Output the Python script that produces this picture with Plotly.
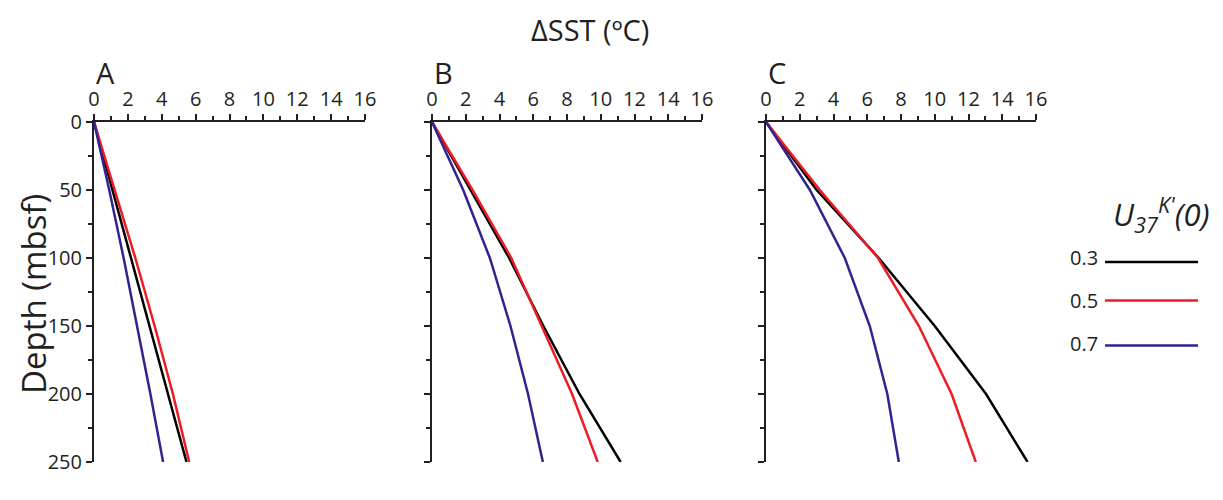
import plotly.graph_objects as go

# ---- data ----
depth = [0, 50, 100, 150, 200, 250]
A_03 = [0, 1.09, 2.18, 3.28, 4.37, 5.46]
A_05 = [0, 1.24, 2.44, 3.58, 4.66, 5.62]
A_07 = [0, 0.9, 1.75, 2.55, 3.33, 4.08]
B_03 = [0, 2.3, 4.57, 6.6, 8.74, 11.18]
B_05 = [0, 2.4, 4.7, 6.5, 8.3, 9.82]
B_07 = [0, 1.85, 3.43, 4.65, 5.69, 6.57]
C_03 = [0, 3.0, 6.68, 10.0, 13.04, 15.5]
C_05 = [0, 3.19, 6.64, 9.06, 11.0, 12.43]
C_07 = [0, 2.6, 4.67, 6.15, 7.19, 7.87]
panels = ["A", "B", "C"]
series_labels = ["0.3", "0.5", "0.7"]
panel_data = {"A": [A_03, A_05, A_07], "B": [B_03, B_05, B_07], "C": [C_03, C_05, C_07]}
colors = ["#000000", "#ed1c24", "#33228f"]

# page body has an 8px margin; figure fills the rest of the 1223x500 window
OFF = 8
W, H = 1223 - 2 * OFF, 500 - 2 * OFF


def fx(px):
    return (px - OFF) / W


def fy(py):
    return 1 - (py - OFF) / H


x_domains = [(94, 365), (432, 702), (766, 1036)]
y_top, y_bot = 122, 462
font_family = "Open Sans, Noto Sans, sans-serif"
txt_color = "#231f20"

fig = go.Figure()
for i, p in enumerate(panels):
    xa = "x" if i == 0 else f"x{i+1}"
    ya = "y" if i == 0 else f"y{i+1}"
    for j in [0, 1, 2]:
        fig.add_trace(go.Scatter(
            x=panel_data[p][j], y=depth, mode="lines",
            line=dict(color=colors[j], width=2.5),
            xaxis=xa, yaxis=ya, showlegend=False, hoverinfo="skip"))

layout = dict(
    width=W, height=H, autosize=False, showlegend=False,
    margin=dict(l=0, r=0, t=0, b=0, pad=0, autoexpand=False),
    paper_bgcolor="white", plot_bgcolor="white",
    font=dict(family=font_family, color=txt_color),
)
for i, p in enumerate(panels):
    x0, x1 = x_domains[i]
    xkey = "xaxis" if i == 0 else f"xaxis{i+1}"
    ykey = "yaxis" if i == 0 else f"yaxis{i+1}"
    yanchor = "y" if i == 0 else f"y{i+1}"
    xanchor = "x" if i == 0 else f"x{i+1}"
    layout[xkey] = dict(
        domain=[fx(x0), fx(x1)], anchor=yanchor, side="top", automargin=False,
        range=[0, 16], dtick=2, tick0=0, showgrid=False, zeroline=False,
        showline=True, linecolor="#231f20", linewidth=2,
        ticks="outside", ticklen=6, tickwidth=2, tickcolor="#231f20",
        tickfont=dict(size=20, color=txt_color),
        minor=dict(dtick=1, ticks="outside", ticklen=4, tickwidth=1.5, tickcolor="#231f20", showgrid=False),
        fixedrange=True,
    )
    layout[ykey] = dict(
        domain=[fy(y_bot), fy(y_top)], anchor=xanchor, automargin=False,
        range=[250, 0], dtick=50, tick0=0, showgrid=False, zeroline=False,
        showline=True, linecolor="#231f20", linewidth=2,
        ticks="outside", ticklen=6, tickwidth=2, tickcolor="#231f20",
        showticklabels=(i == 0),
        tickfont=dict(size=20, color=txt_color),
        minor=dict(dtick=25, ticks="outside", ticklen=4, tickwidth=1.5, tickcolor="#231f20", showgrid=False),
        fixedrange=True,
    )
fig.update_layout(**layout)

ann = []
for i, p in enumerate(panels):
    x0, _ = x_domains[i]
    ann.append(dict(x=fx(x0 + 11), y=fy(72), xref="paper", yref="paper",
                    text=p, showarrow=False, font=dict(size=29, color=txt_color),
                    xanchor="center", yanchor="middle"))
ann.append(dict(x=fx(590), y=fy(29), xref="paper", yref="paper",
                text="ΔSST (ºC)", showarrow=False, font=dict(size=29, color=txt_color),
                xanchor="center", yanchor="middle"))
ann.append(dict(x=fx(33), y=fy(294), xref="paper", yref="paper",
                text="Depth (mbsf)", showarrow=False, textangle=-90,
                font=dict(size=33, color=txt_color), xanchor="center", yanchor="middle"))
ann.append(dict(x=fx(1161), y=fy(214), xref="paper", yref="paper",
                text="<i>U<sub>37</sub><sup>K'</sup>(0)</i>", showarrow=False,
                font=dict(size=31, color=txt_color), xanchor="center", yanchor="middle"))
shapes = []
legend_line_y = [262, 300.5, 345.5]
legend_text_y = [258, 300, 343]
for j, lab in enumerate(series_labels):
    ann.append(dict(x=fx(1100), y=fy(legend_text_y[j]), xref="paper", yref="paper",
                    text=lab, showarrow=False, font=dict(size=20, color=txt_color),
                    xanchor="right", yanchor="middle"))
    shapes.append(dict(type="line", xref="paper", yref="paper",
                       x0=fx(1105), x1=fx(1198), y0=fy(legend_line_y[j]), y1=fy(legend_line_y[j]),
                       line=dict(color=colors[j], width=2.5)))
fig.update_layout(annotations=ann, shapes=shapes)

fig.write_html("out.html")
